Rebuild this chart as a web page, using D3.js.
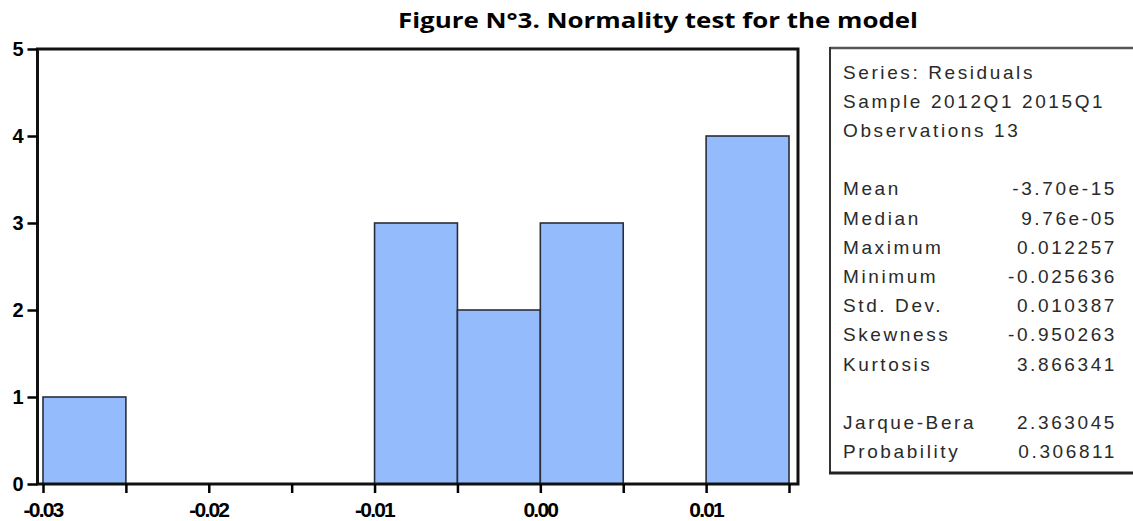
<!DOCTYPE html>
<html><head><meta charset="utf-8">
<script src="https://cdn.jsdelivr.net/npm/d3@7/dist/d3.min.js"></script>
<style>
html,body{margin:0;padding:0;background:#fff;}
svg{display:block;}
</style></head>
<body>
<svg id="chart" width="1133" height="521"></svg>
<script>
// ---- data ----
const title = "Figure N°3. Normality test for the model";
const binStarts = [-0.03, -0.025, -0.02, -0.015, -0.01, -0.005, 0.0, 0.005, 0.01];
const binWidth = 0.005;
const counts = [1, 0, 0, 0, 3, 2, 3, 0, 4];
const yTicks = [0, 1, 2, 3, 4, 5];
const xMinorTicks = [-0.03, -0.025, -0.02, -0.015, -0.01, -0.005, 0.0, 0.005, 0.01, 0.015];
const xLabelTicks = [-0.03, -0.02, -0.01, 0.0, 0.01];
const xLabelText = ["-0.03", "-0.02", "-0.01", "0.00", "0.01"];
const statRows = [0, 1, 2, 4, 5, 6, 7, 8, 9, 10, 12, 13];
const statLabels = ["Series: Residuals", "Sample 2012Q1 2015Q1", "Observations 13",
  "Mean", "Median", "Maximum", "Minimum", "Std. Dev.", "Skewness", "Kurtosis",
  "Jarque-Bera", "Probability"];
const statValues = ["", "", "", "-3.70e-15", "9.76e-05", "0.012257", "-0.025636",
  "0.010387", "-0.950263", "3.866341", "2.363045", "0.306811"];

// ---- layout ----
const svg = d3.select("#chart");
const frame = {left: 37.5, right: 798, top: 49, bottom: 484};
const x = d3.scaleLinear().domain([-0.03, 0.015]).range([43, 789]);
const y = d3.scaleLinear().domain([0, 5]).range([484, 49]);

// title
svg.append("text")
  .attr("x", 658).attr("y", 28)
  .attr("text-anchor", "middle")
  .attr("font-family", "'Open Sans', 'Noto Sans', sans-serif")
  .attr("font-weight", "bold")
  .attr("font-size", 21)
  .attr("textLength", 520).attr("lengthAdjust", "spacingAndGlyphs")
  .attr("fill", "#000")
  .text(title);

// bars
const bins = binStarts.map((s, i) => ({s, c: counts[i]})).filter(d => d.c > 0);
svg.append("g").selectAll("rect").data(bins).join("rect")
  .attr("x", d => x(d.s))
  .attr("y", d => y(d.c))
  .attr("width", d => x(d.s + binWidth) - x(d.s))
  .attr("height", d => y(0) - y(d.c))
  .attr("fill", "#94bbfc")
  .attr("stroke", "#2a2e38")
  .attr("stroke-width", 1.6);

// frame
svg.append("rect")
  .attr("x", frame.left).attr("y", frame.top)
  .attr("width", frame.right - frame.left)
  .attr("height", frame.bottom - frame.top)
  .attr("fill", "none")
  .attr("stroke", "#111")
  .attr("stroke-width", 3);

// y axis
const yAxis = d3.axisLeft(y).tickValues(yTicks).tickSize(10).tickPadding(5).tickFormat(d3.format("d"));
const gy = svg.append("g").attr("transform", `translate(${frame.left},0)`).call(yAxis);
gy.select(".domain").remove();
gy.selectAll(".tick line").attr("stroke", "#000").attr("stroke-width", 2.5);
gy.selectAll(".tick text")
  .attr("font-family", "'Liberation Sans', Arial, sans-serif")
  .attr("font-weight", "bold").attr("font-size", 20).attr("fill", "#000")
  .attr("letter-spacing", -1);

// x axis minor ticks
const xAxis = d3.axisBottom(x).tickValues(xMinorTicks).tickSize(9).tickFormat("");
const gx = svg.append("g").attr("transform", `translate(0,${frame.bottom})`).call(xAxis);
gx.select(".domain").remove();
gx.selectAll(".tick line").attr("stroke", "#000").attr("stroke-width", 2.5);
// x labels
svg.append("g").selectAll("text").data(xLabelTicks).join("text")
  .attr("x", d => x(d))
  .attr("y", 517)
  .attr("text-anchor", "middle")
  .attr("font-family", "'Liberation Sans', Arial, sans-serif")
  .attr("font-weight", "bold").attr("font-size", 21)
  .attr("letter-spacing", -1.8)
  .attr("fill", "#000")
  .text((d, i) => xLabelText[i]);

// stats box
svg.append("line").attr("x1", 830).attr("x2", 1133).attr("y1", 48).attr("y2", 48)
  .attr("stroke", "#555").attr("stroke-width", 2.5);
svg.append("line").attr("x1", 830).attr("x2", 830).attr("y1", 47).attr("y2", 474)
  .attr("stroke", "#333").attr("stroke-width", 2);
svg.append("line").attr("x1", 829).attr("x2", 1133).attr("y1", 473).attr("y2", 473)
  .attr("stroke", "#222").attr("stroke-width", 3);

const rowY = d3.scaleLinear().domain([0, 13]).range([78.5, 458.2]);
const statFont = "'Liberation Sans', Arial, sans-serif";
const gs = svg.append("g");
gs.selectAll("text.lab").data(statLabels).join("text")
  .attr("class", "lab")
  .attr("x", 843)
  .attr("y", (d, i) => rowY(statRows[i]))
  .attr("font-family", statFont).attr("font-size", 19)
  .attr("letter-spacing", 2.6)
  .attr("fill", "#2a2a2a")
  .text(d => d);
gs.selectAll("text.val").data(statValues).join("text")
  .attr("class", "val")
  .attr("x", 1117)
  .attr("y", (d, i) => rowY(statRows[i]))
  .attr("text-anchor", "end")
  .attr("font-family", statFont).attr("font-size", 19)
  .attr("letter-spacing", 2.6)
  .attr("fill", "#2a2a2a")
  .text(d => d);
</script>
</body></html>
